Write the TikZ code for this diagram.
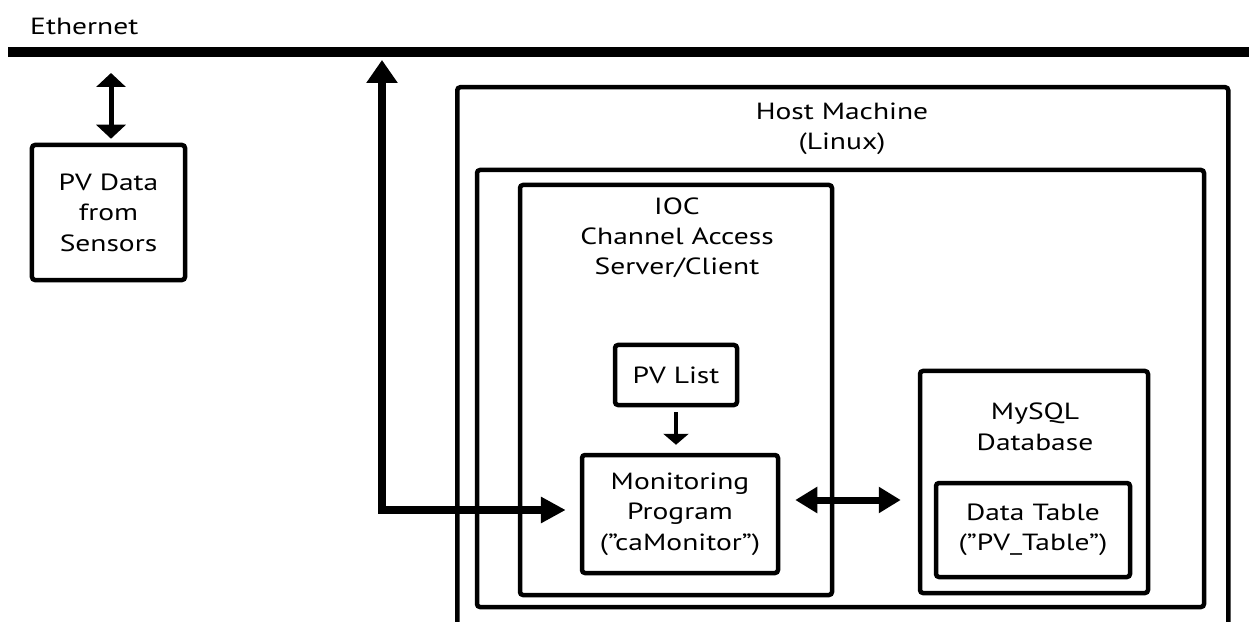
\documentclass[tikz,border=0pt]{standalone}
\usepackage{fontspec}
\setmainfont[FakeStretch=1.26]{PT Sans}
\usetikzlibrary{arrows.meta}
\tikzset{
  box/.style={draw, line width=4.5bp, rounded corners=3bp, inner sep=0pt, align=center},
  lbl/.style={inner sep=0pt, align=center},
  ether/.style={line width=10bp},
  darrow/.style={line width=5bp, {Triangle[length=14bp,width=29bp]}-{Triangle[length=14bp,width=29bp]}},
  netarrow/.style={line width=8bp, line join=miter, {Triangle[length=23bp,width=30bp]}-{Triangle[length=25bp,width=25bp]}},
  listarrow/.style={line width=4bp, -{Triangle[length=11bp,width=25bp]}},
  dbarrow/.style={line width=7bp, {Triangle[length=22bp,width=25bp]}-{Triangle[length=22bp,width=25bp]}},
}
\begin{document}
\begin{tikzpicture}[x=1bp,y=-1bp, font=\fontsize{23.5}{30.5}\selectfont]
\useasboundingbox (0,0) rectangle (1249,622);
\clip (0,0) rectangle (1249,622);
% Ethernet bus
\coordinate (ethL) at (8,52);
\coordinate (ethR) at (1260,52);
\draw[ether] (ethL) -- (ethR);
\node[lbl, anchor=base west] (ethlbl) at (30,35) {Ethernet};
% PV data
\node[box, minimum width=153bp, minimum height=135bp] (pvdata) at (108.5,212.5) {PV Data\\from\\Sensors};
% Host machine
\node[box, minimum width=771bp, minimum height=600bp, anchor=north west] (host) at (455,85) {};
\node[lbl, anchor=base] (hostlbl) at (842,150) {Host Machine\\(Linux)};
\node[box, minimum width=727bp, minimum height=437bp] (inner) at (840.5,388.5) {};
% IOC
\node[box, minimum width=312bp, minimum height=410bp] (ioc) at (676,390) {};
\node[lbl, anchor=base] (ioclbl) at (677,275) {IOC\\Channel Access\\Server/Client};
\node[box, minimum width=122bp, minimum height=60bp] (pvlist) at (676,375) {PV List};
\node[box, minimum width=196bp, minimum height=118bp] (mon) at (680,514) {Monitoring\\Program\\(”caMonitor”)};
% MySQL
\node[box, minimum width=228bp, minimum height=222bp] (mysql) at (1034,482) {};
\node[lbl, anchor=base] (mysqllbl) at (1035,450) {MySQL\\Database};
\node[box, minimum width=194bp, minimum height=94bp] (table) at (1033,530) {Data Table\\(”PV\_Table”)};
% connectors
\coordinate (e1) at (111,57);
\draw[darrow, shorten <=16bp, shorten >=4bp] (e1) -- (pvdata.north -| e1);
\coordinate (e2) at (382,57);
\draw[netarrow, shorten <=3bp, shorten >=14bp] (e2) |- ([yshift=4bp]mon.west);
\draw[listarrow, shorten <=5bp, shorten >=8bp] (pvlist.south) -- (pvlist.south |- mon.north);
\draw[dbarrow, shorten <=15bp, shorten >=17bp] ([yshift=14bp]mon.east) -- ([yshift=14bp]mon.east -| mysql.west);
\end{tikzpicture}
\end{document}
